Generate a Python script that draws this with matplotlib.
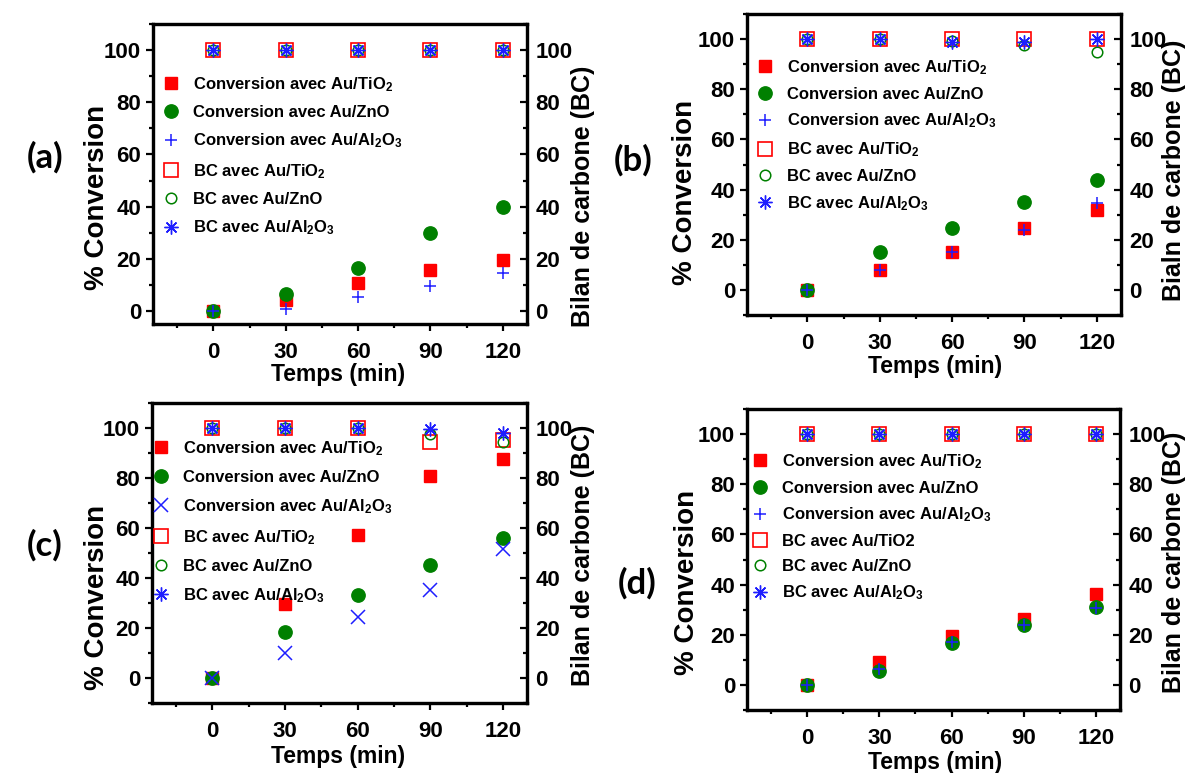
import matplotlib
matplotlib.use("Agg")
import matplotlib.pyplot as plt
from matplotlib.ticker import MultipleLocator

plt.rcParams['font.family'] = ['Liberation Sans', 'DejaVu Sans']
plt.rcParams['font.weight'] = 'bold'
plt.rcParams['mathtext.fontset'] = 'custom'
plt.rcParams['mathtext.rm'] = 'Liberation Sans:bold'
plt.rcParams['mathtext.it'] = 'Liberation Sans:bold'
plt.rcParams['mathtext.bf'] = 'Liberation Sans:bold'
plt.rcParams['mathtext.default'] = 'rm'

time = [0, 30, 60, 90, 120]
xticks = [0, 30, 60, 90, 120]
yticks = [0, 20, 40, 60, 80, 100]

a_conv_tio2 = [0, 4.2, 10.8, 15.7, 19.7]
a_conv_zno = [0, 6.5, 16.3, 29.7, 39.9]
a_conv_al = [0, 0.8, 5.5, 9.7, 14.5]
a_bc_tio2 = [100, 100, 100, 100, 100]
a_bc_zno = [100, 100, 100, 100, 100]
a_bc_al = [100, 100, 100, 100, 100]

b_conv_tio2 = [0, 7.8, 15.0, 24.7, 32.0]
b_conv_zno = [0, 15.0, 24.8, 34.9, 43.9]
b_conv_al = [0, 7.8, 15.0, 24.0, 34.6]
b_bc_tio2 = [100, 100, 100, 100, 100]
b_bc_zno = [100, 100, 99.3, 97.6, 94.7]
b_bc_al = [100, 100, 98.9, 98.7, 100]

c_conv_tio2 = [0, 29.7, 57.4, 80.9, 87.6]
c_conv_zno = [0, 18.4, 33.2, 45.1, 55.9]
c_conv_al = [0, 10.0, 24.3, 35.2, 51.5]
c_bc_tio2 = [100, 100, 100, 94.6, 95.3]
c_bc_zno = [100, 100, 100, 97.7, 94.4]
c_bc_al = [100, 100, 100, 99.7, 98.1]

d_conv_tio2 = [0, 9.0, 19.5, 26.3, 36.3]
d_conv_zno = [0, 5.7, 16.9, 23.9, 30.9]
d_conv_al = [0, 6.2, 17.0, 23.9, 30.8]
d_bc_tio2 = [100, 100, 100, 100, 100]
d_bc_zno = [100, 100, 100, 100, 100]
d_bc_al = [100, 100, 100, 100, 100]

lab_conv_tio2 = "Conversion avec Au/TiO$_2$"
lab_conv_zno = "Conversion avec Au/ZnO"
lab_conv_al = "Conversion avec Au/Al$_2$O$_3$"
lab_bc_tio2 = "BC avec Au/TiO$_2$"
lab_bc_tio2_plain = "BC avec Au/TiO2"
lab_bc_zno = "BC avec Au/ZnO"
lab_bc_al = "BC avec Au/Al$_2$O$_3$"

RED = '#FF0000'
GREEN = '#008000'
BLUE = '#1E1EFF'

W, H = 1187, 773
fig = plt.figure(figsize=(W / 100, H / 100), dpi=100)


def rect(l, t, r, b):
    return [l / W, 1 - b / H, (r - l) / W, (b - t) / H]


panels = [
    dict(rect=rect(153, 24, 527, 324), ylim=(-5, 110),
         data=(a_conv_tio2, a_conv_zno, a_conv_al, a_bc_tio2, a_bc_zno, a_bc_al),
         almarker='+', bclabel=lab_bc_tio2, rlabel="Bilan de carbone (BC)",
         letter="(a)", letter_xy=(45, 157),
         ylab_xy=(97, 197), rlab_xy=(583, 196), xlab_xy=(338, 375),
         leg_anchor=(163, 75), leg_spacing=0.69),
    dict(rect=rect(747, 14, 1121, 315), ylim=(-10, 110),
         data=(b_conv_tio2, b_conv_zno, b_conv_al, b_bc_tio2, b_bc_zno, b_bc_al),
         almarker='+', bclabel=lab_bc_tio2, rlabel="Bialn de carbone (BC)",
         letter="(b)", letter_xy=(633, 160),
         ylab_xy=(685, 192), rlab_xy=(1174, 170), xlab_xy=(935, 366),
         leg_anchor=(757, 58), leg_spacing=0.60),
    dict(rect=rect(152, 403, 527, 703), ylim=(-10, 110),
         data=(c_conv_tio2, c_conv_zno, c_conv_al, c_bc_tio2, c_bc_zno, c_bc_al),
         almarker='x', bclabel=lab_bc_tio2, rlabel="Bilan de carbone (BC)",
         letter="(c)", letter_xy=(45, 545),
         ylab_xy=(97, 597), rlab_xy=(583, 555), xlab_xy=(338, 757),
         leg_anchor=(153, 439), leg_spacing=0.73),
    dict(rect=rect(747, 409, 1120, 710), ylim=(-10, 110),
         data=(d_conv_tio2, d_conv_zno, d_conv_al, d_bc_tio2, d_bc_zno, d_bc_al),
         almarker='+', bclabel=lab_bc_tio2_plain, rlabel="Bilan de carbone (BC)",
         letter="(d)", letter_xy=(637, 583),
         ylab_xy=(687, 582), rlab_xy=(1174, 562), xlab_xy=(935, 762),
         leg_anchor=(752, 452), leg_spacing=0.59),
]

TICK_FS = 16
YLAB_FS = 20
RLAB_FS = 18
XLAB_FS = 16.5
LEG_FS = 12

for p in panels:
    ax = fig.add_axes(p['rect'])
    ax2 = ax.twinx()
    conv_tio2, conv_zno, conv_al, bc_tio2, bc_zno, bc_al = p['data']

    h1, = ax.plot(time, conv_tio2, ls='none', marker='s', ms=8.6, color=RED,
                  mec=RED, label=lab_conv_tio2, zorder=3)
    h2, = ax.plot(time, conv_zno, ls='none', marker='o', ms=9.6, color=GREEN,
                  mec=GREEN, label=lab_conv_zno, zorder=4)
    h3, = ax.plot(time, conv_al, ls='none', marker=p['almarker'],
                  ms=9.5 if p['almarker'] == 'x' else 9.0, color=BLUE,
                  mew=1.1, label=lab_conv_al, zorder=5)
    h4, = ax2.plot(time, bc_tio2, ls='none', marker='s', ms=9.6, mfc='none',
                   mec=RED, mew=1.2, label=p['bclabel'], zorder=3)
    h5, = ax2.plot(time, bc_zno, ls='none', marker='o', ms=7.6, mfc='none',
                   mec=GREEN, mew=1.1, label=lab_bc_zno, zorder=4)
    h6, = ax2.plot(time, bc_al, ls='none', marker=(8, 2, 0), ms=10, color=BLUE,
                   mec=BLUE, mew=1.0, label=lab_bc_al, zorder=5)

    for a in (ax, ax2):
        a.set_xlim(-25, 130)
        a.set_ylim(*p['ylim'])
        a.set_yticks(yticks)
        a.yaxis.set_minor_locator(MultipleLocator(10))
        a.set_xticks(xticks)
        a.xaxis.set_minor_locator(MultipleLocator(15))
        for s in a.spines.values():
            s.set_linewidth(2.3)

    ax.tick_params(axis='y', which='both', left=True, right=False, direction='out',
                   labelsize=TICK_FS, width=1.6)
    ax.tick_params(axis='y', which='major', length=5)
    ax.tick_params(axis='y', which='minor', length=3)
    ax.tick_params(axis='x', which='both', bottom=True, top=False, direction='out',
                   labelsize=TICK_FS, width=1.6)
    ax.tick_params(axis='x', which='major', length=5, pad=8)
    ax.tick_params(axis='x', which='minor', length=3)
    ax2.tick_params(axis='y', which='both', right=True, left=False, direction='in',
                    labelsize=TICK_FS, width=1.6, pad=6)
    ax2.tick_params(axis='y', which='major', length=5)
    ax2.tick_params(axis='y', which='minor', length=3)
    ax.xaxis.set_ticks_position('bottom')
    ax2.xaxis.set_ticks_position('top')
    ax2.tick_params(axis='x', which='both', top=True, bottom=False, direction='in',
                    labeltop=False, labelbottom=False, width=1.6)
    ax2.tick_params(axis='x', which='major', length=5)
    ax2.tick_params(axis='x', which='minor', length=3)
    for lab in ax.get_xticklabels() + ax.get_yticklabels() + ax2.get_yticklabels():
        lab.set_fontweight('bold')

    lx, ly = p['leg_anchor']
    l0, b0, w0, h0 = p['rect']
    axl = (lx / W - l0) / w0
    ayl = ((1 - ly / H) - b0) / h0
    ax2.legend(handles=[h1, h2, h3, h4, h5, h6], loc='upper left',
               bbox_to_anchor=(axl, ayl), frameon=False,
               numpoints=1, handlelength=1.0, handletextpad=0.8,
               borderpad=0, borderaxespad=0, labelspacing=p['leg_spacing'],
               prop={'weight': 'bold', 'size': LEG_FS})

    x, y = p['letter_xy']
    fig.text(x / W, 1 - y / H, p['letter'], ha='center', va='center',
             fontsize=25, fontweight='bold', family=['Lato', 'DejaVu Sans'])
    x, y = p['ylab_xy']
    fig.text(x / W, 1 - y / H, "% Conversion", ha='center', va='center',
             rotation=90, fontsize=YLAB_FS, fontweight='bold')
    x, y = p['rlab_xy']
    fig.text(x / W, 1 - y / H, p['rlabel'], ha='center', va='center',
             rotation=90, fontsize=RLAB_FS, fontweight='bold')
    x, y = p['xlab_xy']
    fig.text(x / W, 1 - y / H, "Temps (min)", ha='center', va='center',
             fontsize=XLAB_FS, fontweight='bold')

fig.savefig("out.png", dpi=100)
